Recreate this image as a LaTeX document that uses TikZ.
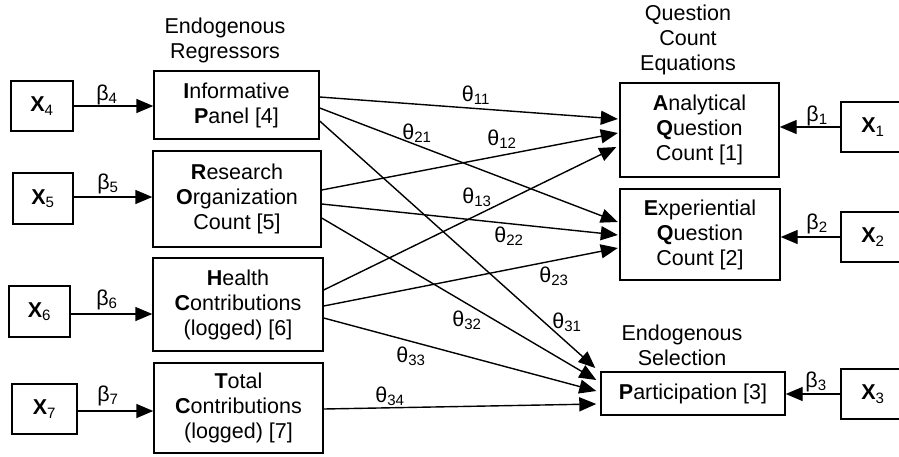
\documentclass[tikz,border=0pt]{standalone}
\usepackage{fontspec}
\setmainfont{Liberation Sans}
\usetikzlibrary{arrows.meta}
\begin{document}
\begin{tikzpicture}[x=1pt,y=-1pt,
  every node/.style={font=\fontsize{21.5}{25}\selectfont, inner sep=0pt},
  box/.style={draw, line width=1.4pt, align=center},
  xbox/.style={box, minimum width=62pt, minimum height=50pt},
  conn/.style={line width=1.4pt, -{Triangle[length=17pt,width=14pt]}},
  head/.style={align=center}]
\clip (0,0) rectangle (899,456);
% headings
\node[head] (hreg) at (225,40) {Endogenous\\Regressors};
\node[head] (hqc) at (688,40) {Question\\Count\\Equations};
\node[head] (hsel) at (682,345) {Endogenous\\Selection};
% exogenous boxes left
\node[xbox] (x4) at (42,106) {\textbf{X}\textsubscript{4}};
\node[xbox, minimum width=60pt, minimum height=51pt] (x5) at (43,198.5) {\textbf{X}\textsubscript{5}};
\node[xbox, minimum width=61pt, minimum height=51pt] (x6) at (39.5,311.5) {\textbf{X}\textsubscript{6}};
\node[xbox, minimum width=65pt] (x7) at (44.5,409) {\textbf{X}\textsubscript{7}};
% endogenous regressors
\node[box, minimum width=165pt, minimum height=68pt] (inf) at (236.5,105) {{\bfseries I}nformative\\{\bfseries P}anel [4]};
\node[box, minimum width=168pt, minimum height=96pt] (res) at (237,199) {{\bfseries R}esearch\\{\bfseries O}rganization\\Count [5]};
\node[box, minimum width=170pt, minimum height=93pt] (hea) at (238,304.5) {{\bfseries H}ealth\\{\bfseries C}ontributions\\(logged) [6]};
\node[box, minimum width=169pt, minimum height=90pt] (tot) at (238.5,408) {{\bfseries T}otal\\{\bfseries C}ontributions\\(logged) [7]};
% outcome boxes
\node[box, minimum width=159pt, minimum height=94pt] (ana) at (699.5,130) {{\bfseries A}nalytical\\{\bfseries Q}uestion\\Count [1]};
\node[box, minimum width=160pt, minimum height=91pt] (exp) at (700,234.5) {{\bfseries E}xperiential\\{\bfseries Q}uestion\\Count [2]};
\node[box, minimum width=184pt, minimum height=43pt] (par) at (693,393.5) {{\bfseries P}articipation [3]};
% exogenous boxes right
\node[xbox, minimum width=64pt] (x1) at (873,127) {\textbf{X}\textsubscript{1}};
\node[xbox, minimum width=64pt] (x2) at (873,237) {\textbf{X}\textsubscript{2}};
\node[xbox, minimum width=64pt] (x3) at (873,394) {\textbf{X}\textsubscript{3}};
% beta arrows
\draw[conn] (x4.east) -- (x4.east -| inf.west);
\draw[conn] ([yshift=1.5pt]x5.east) -- ([yshift=1.5pt]x5.east -| res.west);
\draw[conn] ([yshift=-2.5pt]x6.east) -- ([yshift=-2.5pt]x6.east -| hea.west);
\draw[conn] ([yshift=-2pt]x7.east) -- ([yshift=-2pt]x7.east -| tot.west);
\draw[conn] (x1.west) -- (x1.west -| ana.east);
\draw[conn] (x2.west) -- (x2.west -| exp.east);
\draw[conn] (x3.west) -- (x3.west -| par.east);
\node (b4) at (107,95) {β\textsubscript{4}};
\node (b5) at (108,184) {β\textsubscript{5}};
\node (b6) at (107,300) {β\textsubscript{6}};
\node (b7) at (108,396) {β\textsubscript{7}};
\node (b1) at (817,116) {β\textsubscript{1}};
\node (b2) at (817,224) {β\textsubscript{2}};
\node (b3) at (816,382) {β\textsubscript{3}};
% theta arrows
\draw[conn] ([yshift=8pt]inf.east) -- ([xshift=-1.5pt,yshift=11pt]ana.west);
\draw[conn] ([yshift=-3pt]inf.east) -- ([xshift=-1.5pt,yshift=12.5pt]exp.west);
\draw[conn] ([yshift=-16pt]inf.east) -- ([xshift=-5pt,yshift=25.5pt]par.west);
\draw[conn] ([yshift=9pt]res.east) -- ([xshift=-1.5pt,yshift=-3pt]ana.west);
\draw[conn] ([yshift=-5pt]res.east) -- ([xshift=-1.5pt,yshift=-0.5pt]exp.west);
\draw[conn] ([yshift=-19pt]res.east) -- ([xshift=-4pt,yshift=13.5pt]par.west);
\draw[conn] ([yshift=14.5pt]hea.east) -- ([xshift=-3pt,yshift=-17pt]ana.west);
\draw[conn] ([yshift=-1.5pt]hea.east) -- ([xshift=-1.5pt,yshift=-13.5pt]exp.west);
\draw[conn] ([yshift=-13.5pt]hea.east) -- ([xshift=-4pt,yshift=2.5pt]par.west);
\draw[conn] ([yshift=-1pt]tot.east) -- ([xshift=-4pt,yshift=-10.5pt]par.west);
\node (t11) at (476,95) {θ\textsubscript{11}};
\node (t21) at (417,133) {θ\textsubscript{21}};
\node (t12) at (502,139) {θ\textsubscript{12}};
\node (t13) at (477,197) {θ\textsubscript{13}};
\node (t22) at (509,236) {θ\textsubscript{22}};
\node (t23) at (554,276) {θ\textsubscript{23}};
\node (t31) at (567,322) {θ\textsubscript{31}};
\node (t32) at (467,320) {θ\textsubscript{32}};
\node (t33) at (411,356) {θ\textsubscript{33}};
\node (t34) at (390,396) {θ\textsubscript{34}};
\end{tikzpicture}
\end{document}
